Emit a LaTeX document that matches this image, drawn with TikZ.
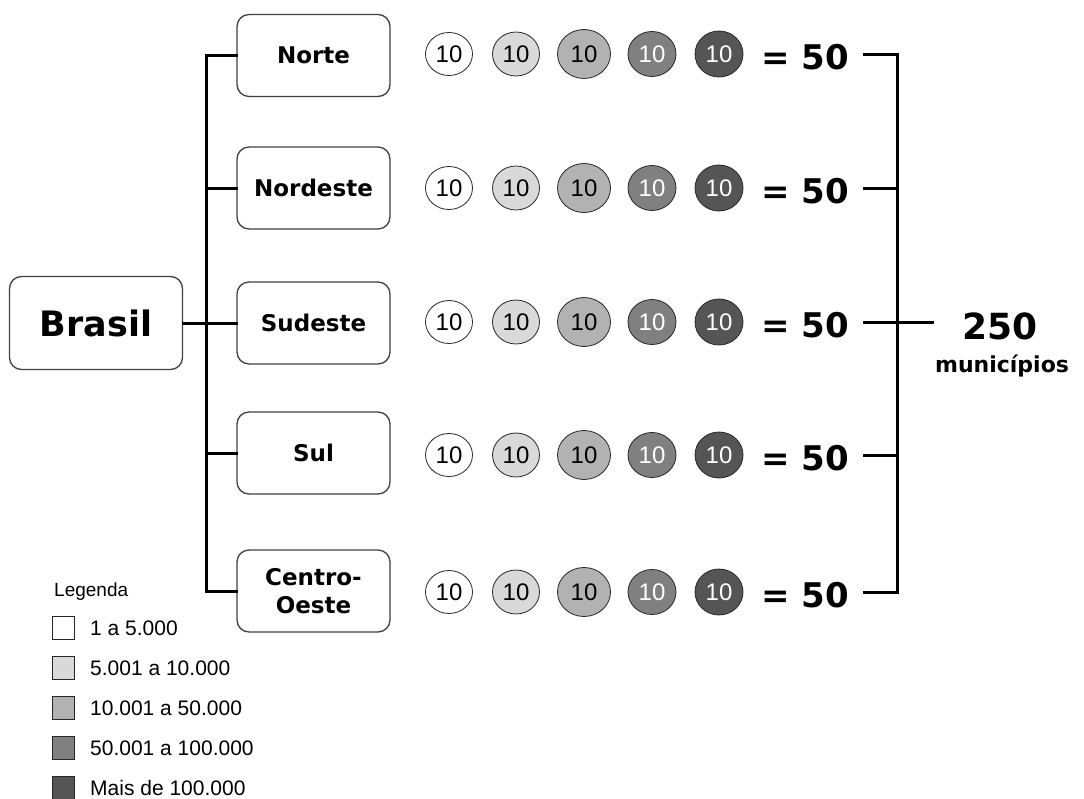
\documentclass[tikz,border=0pt]{standalone}
\usepackage{fontspec}
\setmainfont{DejaVu Sans}
\newfontfamily\arialf{Liberation Sans}
\usetikzlibrary{shapes.geometric}
\definecolor{cA}{HTML}{FFFFFF}
\definecolor{cB}{HTML}{D9D9D9}
\definecolor{cC}{HTML}{B2B2B2}
\definecolor{cD}{HTML}{808080}
\definecolor{cE}{HTML}{555555}
\definecolor{boxline}{HTML}{404040}
\tikzset{
  regbox/.style={draw=boxline, line width=1.3pt, rounded corners=12pt, fill=white,
    minimum width=153pt, minimum height=82pt, inner sep=0pt, align=center,
    font=\fontsize{23}{28}\selectfont\bfseries},
  bigbox/.style={regbox, minimum width=173pt, minimum height=93pt,
    font=\fontsize{35}{40}\selectfont\bfseries},
  tree/.style={line width=3pt, line cap=rect},
  disc/.style={ellipse, draw=black!85, line width=0.8pt, inner sep=0pt,
    font=\arialf\fontsize{24}{24}\selectfont},
  dA/.style={disc, fill=cA, minimum width=47pt, minimum height=43pt},
  dB/.style={disc, fill=cB, minimum width=47pt, minimum height=44pt},
  dC/.style={disc, fill=cC, minimum width=53pt, minimum height=49pt},
  dD/.style={disc, fill=cD, minimum width=48pt, minimum height=45pt, text=white},
  dE/.style={disc, fill=cE, minimum width=48pt, minimum height=46pt, text=white},
  sumtxt/.style={font=\fontsize{34}{34}\selectfont\bfseries, inner sep=0pt},
  legsq/.style={draw=black!85, line width=1pt, minimum width=22pt, minimum height=23pt, inner sep=0pt},
  legtxt/.style={font=\arialf\fontsize{21}{21}\selectfont, anchor=base west, inner sep=0pt},
}
\begin{document}
\begin{tikzpicture}[x=1pt,y=-1pt]
\useasboundingbox (0,0) rectangle (1084,798);

% Brasil
\node[bigbox] (brasil) at (96,323) {Brasil};

% regions
\node[regbox] (r1) at (313.5,55.5) {Norte};
\node[regbox] (r2) at (313.5,188) {Nordeste};
\node[regbox] (r3) at (313.5,323) {Sudeste};
\node[regbox] (r4) at (313.5,453) {Sul};
\node[regbox] (r5) at (313.5,591) {Centro-\\Oeste};

% tree
\coordinate (vt) at (206,55.5);
\coordinate (vb) at (206,591);
\draw[tree] (r1.west) -- (vt) -- (vb) -- (r5.west);
\draw[tree] (r2.west) -- (r2.west -| vt);
\draw[tree] (r4.west) -- (r4.west -| vt);
\draw[tree] (brasil.east) -- (r3.west);

% circle rows and sums
\foreach \i/\y in {1/54,2/188,3/322,4/455,5/592}{
  \node[dA] (a\i) at (449,\y) {10};
  \node[dB] (b\i) at (516,\y) {10};
  \node[dC] (c\i) at (584,\y) {10};
  \node[dD] (d\i) at (652,\y) {10};
  \node[dE] (e\i) at (719,\y) {10};
  \node[sumtxt] (s\i) at (805,\y+3) {= 50};
  \coordinate (k\i) at (897,\y);
  \draw[tree] (864,\y) -- (k\i);
}
\draw[tree] (k1) -- (k5);
\coordinate (kout) at (932,322);
\draw[tree] (k3) -- (kout);

% total
\node[font=\fontsize{36}{36}\selectfont\bfseries, anchor=base, inner sep=0pt] (tot) at (1000,339) {250};
\node[font=\fontsize{22}{22}\selectfont\bfseries, anchor=base, inner sep=0pt] (mun) at (1002,372) {municípios};

% legend
\node[font=\arialf\fontsize{19}{19}\selectfont, anchor=base west, inner sep=0pt] (leg) at (54,596) {Legenda};
\foreach \i/\c/\t in {0/cA/1 a 5.000,1/cB/5.001 a 10.000,2/cC/10.001 a 50.000,3/cD/50.001 a 100.000,4/cE/Mais de 100.000}{
  \node[legsq, fill=\c] (q\i) at (63.5,627.5+40*\i) {};
  \node[legtxt] (t\i) at (90,635+40*\i) {\t};
}
\end{tikzpicture}
\end{document}
